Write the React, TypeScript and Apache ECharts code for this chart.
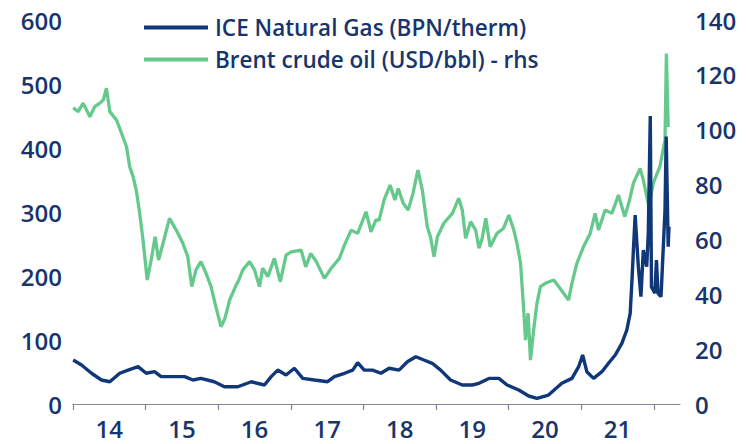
import React, { useEffect, useRef } from "react";
import * as echarts from "echarts";

const gasName = "ICE Natural Gas (BPN/therm)";
const brentName = "Brent crude oil (USD/bbl) - rhs";

const xTickYears = [2014, 2015, 2016, 2017, 2018, 2019, 2020, 2021, 2022];
const xLabelYears = ["14", "15", "16", "17", "18", "19", "20", "21"];

const brentDates = [
  "2014-01-02", "2014-01-27", "2014-02-21", "2014-03-27", "2014-04-20", "2014-05-16", "2014-06-02", "2014-06-18",
  "2014-07-05", "2014-08-08", "2014-09-02", "2014-09-27", "2014-10-13", "2014-10-30", "2014-11-15", "2014-12-02",
  "2014-12-19", "2015-01-09", "2015-01-29", "2015-02-18", "2015-03-07", "2015-04-03", "2015-05-01", "2015-06-04",
  "2015-07-07", "2015-08-01", "2015-08-21", "2015-09-11", "2015-10-06", "2015-11-01", "2015-11-26", "2015-12-20",
  "2016-01-15", "2016-02-03", "2016-02-28", "2016-03-28", "2016-04-14", "2016-05-04", "2016-06-07", "2016-07-02",
  "2016-07-27", "2016-08-12", "2016-09-07", "2016-10-10", "2016-11-09", "2016-12-08", "2017-01-03", "2017-02-22",
  "2017-03-17", "2017-04-11", "2017-05-09", "2017-06-19", "2017-07-23", "2017-09-02", "2017-09-28", "2017-10-31",
  "2017-12-03", "2018-01-14", "2018-02-08", "2018-03-05", "2018-03-21", "2018-04-15", "2018-05-15", "2018-06-08",
  "2018-06-25", "2018-07-20", "2018-08-14", "2018-09-07", "2018-10-02", "2018-10-24", "2018-11-18", "2018-12-04",
  "2018-12-22", "2019-01-08", "2019-02-09", "2019-03-24", "2019-04-25", "2019-05-13", "2019-05-30", "2019-06-24",
  "2019-07-19", "2019-08-05", "2019-08-21", "2019-09-08", "2019-09-30", "2019-11-03", "2019-12-06", "2020-01-02",
  "2020-01-27", "2020-02-12", "2020-03-01", "2020-03-17", "2020-03-26", "2020-04-08", "2020-04-20", "2020-05-06",
  "2020-05-23", "2020-06-09", "2020-07-04", "2020-08-15", "2020-09-09", "2020-10-04", "2020-10-29", "2020-11-15",
  "2020-12-10", "2021-01-12", "2021-02-15", "2021-03-12", "2021-03-29", "2021-05-01", "2021-06-04", "2021-07-07",
  "2021-08-08", "2021-09-01", "2021-09-20", "2021-10-24", "2021-11-09", "2021-12-07", "2021-12-29", "2022-01-31",
  "2022-02-26", "2022-03-05", "2022-03-14",
];
const brentValues = [
  108, 106.6, 109.7, 104.7, 108.4, 109.7, 110.8, 115.1,
  106.6, 103.5, 98.7, 93.8, 86.5, 82.9, 78, 69.6,
  59.8, 45.2, 52.5, 61, 52.5, 59.8, 67.7, 63.4,
  58.6, 53.7, 42.8, 48.9, 51.9, 47.6, 42.8, 35.5,
  28.2, 31, 38, 42.8, 45.2, 48.9, 51.9, 48.9,
  42.8, 49.5, 46.4, 53.1, 44.6, 54.3, 55.5, 56.1,
  50, 54.9, 51.9, 45.8, 49.5, 53.1, 58, 63.4,
  62.2, 70.1, 62.8, 67.1, 67, 74.4, 79.8, 74.4,
  78.6, 73.2, 70.7, 76.8, 85.3, 78, 64.6, 61,
  53.7, 61, 65.9, 69.5, 75, 70.7, 60.4, 66.5,
  63.4, 56.8, 60.4, 67.7, 57.3, 62.2, 64, 68.9,
  63.4, 58.6, 51.3, 34.3, 23.3, 33.1, 16, 27,
  36.8, 42.8, 44, 45.2, 42.8, 40.4, 37.9, 44,
  51.3, 57.3, 62.2, 69.5, 63.4, 70.7, 69.5, 76.2,
  68.3, 74.4, 80.5, 85.9, 81.7, 71.9, 80.5, 86.5,
  96.2, 127.8, 101,
];

const gasDates = [
  "2014-01-02", "2014-02-13", "2014-04-04", "2014-05-24", "2014-07-05", "2014-08-24", "2014-10-05", "2014-11-24",
  "2015-01-04", "2015-02-15", "2015-03-20", "2015-05-27", "2015-07-16", "2015-08-27", "2015-10-06", "2015-12-12",
  "2016-02-01", "2016-04-09", "2016-06-16", "2016-08-21", "2016-09-24", "2016-10-27", "2016-12-08", "2017-01-19",
  "2017-03-02", "2017-04-30", "2017-07-05", "2017-08-08", "2017-09-28", "2017-11-08", "2017-12-03", "2018-01-05",
  "2018-02-16", "2018-03-30", "2018-05-10", "2018-06-29", "2018-08-10", "2018-09-21", "2018-11-01", "2018-12-13",
  "2019-01-24", "2019-03-15", "2019-05-13", "2019-07-02", "2019-08-05", "2019-09-24", "2019-11-13", "2019-12-24",
  "2020-02-21", "2020-04-11", "2020-05-23", "2020-07-20", "2020-09-25", "2020-11-15", "2020-12-19", "2021-01-08",
  "2021-01-29", "2021-03-04", "2021-04-15", "2021-05-18", "2021-06-21", "2021-07-24", "2021-08-18", "2021-09-04",
  "2021-09-13", "2021-09-21", "2021-09-29", "2021-10-15", "2021-10-28", "2021-11-09", "2021-11-26", "2021-12-04",
  "2021-12-14", "2021-12-20", "2022-01-06", "2022-01-14", "2022-01-22", "2022-02-06", "2022-02-26", "2022-03-04",
  "2022-03-14", "2022-03-18",
];
const gasValues = [
  68.8, 61, 48, 37.5, 34.8, 48, 53, 58.3,
  48, 50.5, 42.7, 42.7, 42.7, 37.5, 40, 34.8,
  27, 27, 34.8, 29.7, 42.7, 53, 45.3, 55.8,
  40, 37.5, 34.8, 42.7, 48, 53, 64.5, 53,
  53, 48, 55.8, 53, 66, 73.9, 68.8, 63.6,
  53, 37.5, 29.7, 29.7, 32.3, 40, 40, 29.7,
  21.9, 12.5, 8.9, 14, 32.3, 40, 58.3, 76.6,
  50.5, 40, 50.5, 63.6, 76.6, 94.8, 115.6, 141.7,
  194, 245.8, 295, 214.5, 167.7, 240.6, 214.5, 266.7,
  450, 183, 173, 225, 173, 167.7, 303, 418,
  245.8, 277,
];

const toYear = (d: string): number => {
  const [y, m, dd] = d.split("-").map(Number);
  const start = Date.UTC(y, 0, 1);
  const end = Date.UTC(y + 1, 0, 1);
  return y + (Date.UTC(y, m - 1, dd) - start) / (end - start);
};

const NAVY = "#103778";
const TEXT = "#17356c";
const GREEN = "#66c98c";
const FONT = "'Open Sans', 'Noto Sans', sans-serif";

export default function App() {
  const ref = useRef<HTMLDivElement>(null);
  useEffect(() => {
    if (!ref.current) return;
    const chart = echarts.init(ref.current, undefined, { renderer: "svg" });
    const labelStyle = { color: TEXT, fontSize: 24, fontFamily: FONT, fontWeight: 600 };
    chart.setOption({
      animation: false,
      backgroundColor: "#ffffff",
      grid: { left: 73, right: 66, top: 20, bottom: 40 },
      legend: {
        orient: "vertical",
        left: 139,
        top: 11,
        itemWidth: 64,
        itemHeight: 4,
        itemGap: 9,
        icon: "rect",
        data: [gasName, brentName],
        textStyle: { color: TEXT, fontSize: 22.5, fontFamily: FONT, fontWeight: 600, padding: [0, 0, 0, 2] },
      },
      xAxis: {
        type: "value",
        min: 2014,
        max: 2022.36,
        splitLine: { show: false },
        axisLine: { show: true, lineStyle: { color: "#7f8899", width: 1.2 } },
        axisTick: {
          show: true,
          length: 6,
          lineStyle: { color: "#7f8899", width: 1.2 },
          customValues: xTickYears,
        },
        axisLabel: {
          ...labelStyle,
          margin: 12,
          customValues: xLabelYears.map((_, i) => xTickYears[i] + 0.5),
          formatter: (v: number) => xLabelYears[Math.floor(v) - 2014] ?? "",
        },
      },
      yAxis: [
        {
          type: "value",
          min: 0,
          max: 600,
          interval: 100,
          splitLine: { show: false },
          axisLine: { show: false },
          axisTick: { show: false },
          axisLabel: { ...labelStyle, margin: 11 },
        },
        {
          type: "value",
          min: 0,
          max: 140,
          interval: 20,
          position: "right",
          splitLine: { show: false },
          axisLine: { show: false },
          axisTick: { show: false },
          axisLabel: { ...labelStyle, margin: 15 },
        },
      ],
      series: [
        {
          name: brentName,
          type: "line",
          yAxisIndex: 1,
          showSymbol: false,
          symbol: "none",
          color: GREEN,
          lineStyle: { color: GREEN, width: 3.3 },
          data: brentDates.map((d, i) => [toYear(d), brentValues[i]]),
        },
        {
          name: gasName,
          type: "line",
          yAxisIndex: 0,
          showSymbol: false,
          symbol: "none",
          color: NAVY,
          lineStyle: { color: NAVY, width: 3.4 },
          data: gasDates.map((d, i) => [toYear(d), gasValues[i]]),
        },
      ],
    });
    return () => chart.dispose();
  }, []);
  return (
    <div
      ref={ref}
      style={{ position: "absolute", left: 0, top: 0, width: 746, height: 444, background: "#fff" }}
    />
  );
}
